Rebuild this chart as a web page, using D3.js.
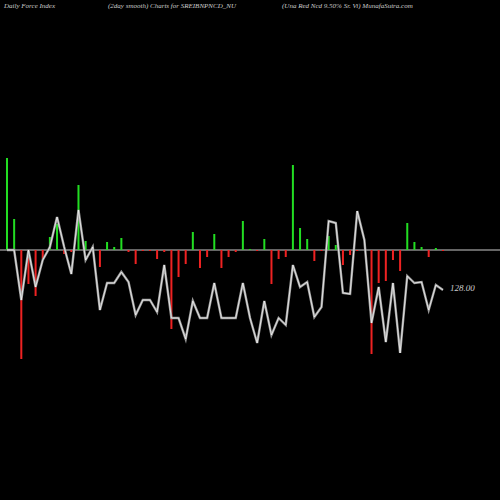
<!DOCTYPE html>
<html><head><meta charset="utf-8">
<script src="https://cdn.jsdelivr.net/npm/d3@7"></script>
<style>body{margin:0;background:#000}</style></head>
<body><svg id="c" width="500" height="500"></svg>
<script>
const forceIndex=[92,31,-109,-34,-46,-9,13,26,-4,-2,65,9,0,-17,8,3,12,-2,-14,-1,-1,-9,-2,-79,-27,-14,18,-18,-7,16,-18,-7,-2,29,1,-1,11,-34,-9,-7,85,22,11,-11,-1,14,5,-15,-5,-1,0,-104,-33,-31,-10,-21,27,8,3,-7,2,-1];
const smoothY=[250,250,300,250,287,260,247,217,247,274,210,260,247,310,283,283,272,282,315,300,300,312,265,318,318,339,301,318,318,283,318,318,318,283,318,343,301,335,318,325,265,287,282,317,307,221,223,293,294,211,240,323,287,342,283,353,276,283,282,310,285,290];
const smooth=smoothY.map(v=>250-v);
const lastLabel="128.00";
const titles=["Daily Force  Index","(2day smooth) Charts for SREIBNPNCD_NU","(Una Red Ncd 9.50% Sr. Vi) MunafaSutra.com"];

const svg=d3.select("#c");
svg.append("rect").attr("width",500).attr("height",500).attr("fill","#000");
const x=d3.scaleLinear().domain([0,forceIndex.length-1]).range([7,443]);
const y=d3.scaleLinear().domain([-250,250]).range([500,0]);
svg.append("line").attr("x1",0).attr("x2",500).attr("y1",y(0)).attr("y2",y(0)).attr("stroke","#888").attr("stroke-width",1.5);
svg.selectAll("rect.b").data(forceIndex).join("rect").attr("class","b")
 .attr("x",(d,i)=>x(i)-1).attr("width",2)
 .attr("y",d=>d>=0?y(d):y(0)).attr("height",d=>Math.abs(y(d)-y(0)))
 .attr("fill",d=>d>=0?"#22dd22":"#ee2222");
const line=d3.line().x((d,i)=>x(i)).y(d=>y(d));
svg.append("path").attr("d",line(smooth)).attr("fill","none").attr("stroke","#999").attr("stroke-width",2.4);
svg.append("path").attr("d",line(smooth)).attr("fill","none").attr("stroke","#fff").attr("stroke-width",0.7);
svg.append("text").attr("x",450).attr("y",y(smooth[smooth.length-1])+1).attr("fill","#ccc")
 .attr("font-family","Liberation Serif").attr("font-style","italic").attr("font-size",9).text(lastLabel);
const tx=[4,108,282];
titles.forEach((t,i)=>svg.append("text").attr("x",tx[i]).attr("y",8).attr("fill","#ccc")
 .attr("font-family","Liberation Serif").attr("font-style","italic").attr("font-size",7).text(t));
</script></body></html>
